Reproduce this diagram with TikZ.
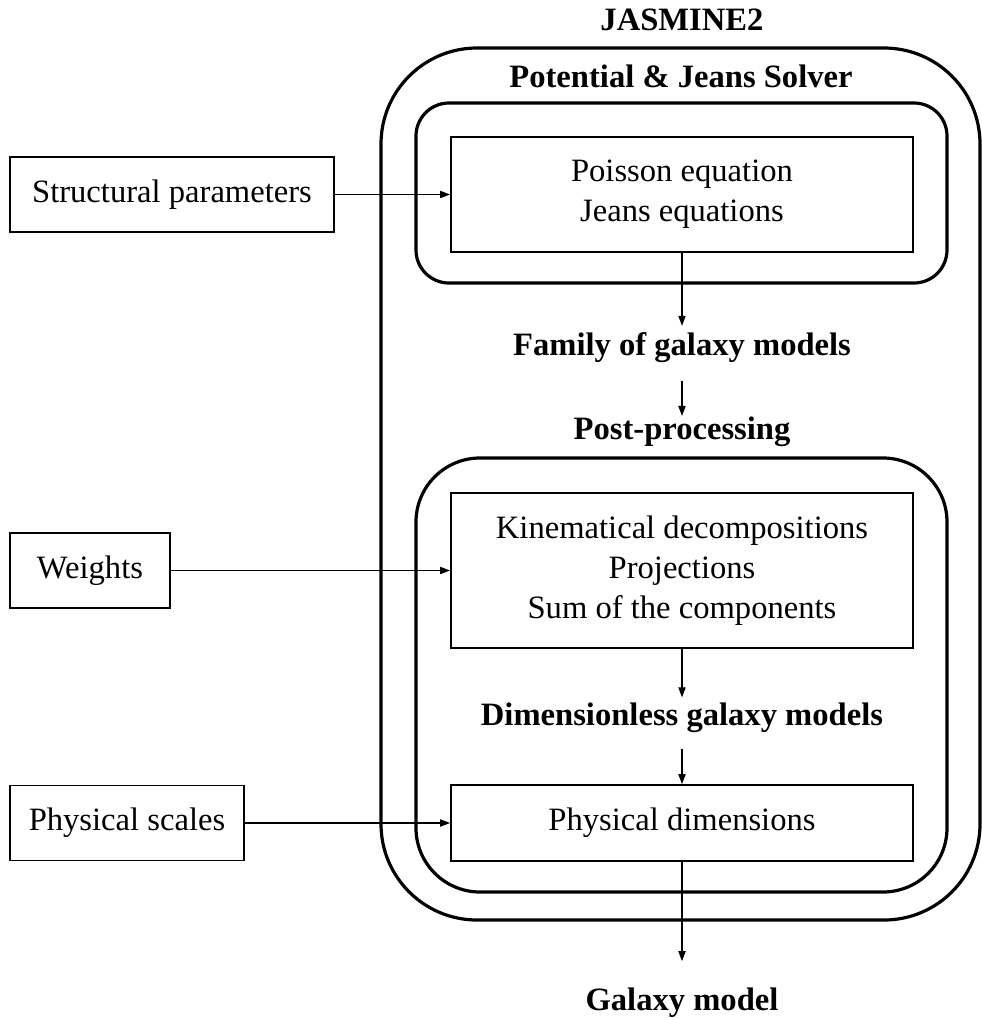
\documentclass[tikz,border=0pt]{standalone}
\usepackage{fontspec}
\setmainfont{Liberation Serif}
\usetikzlibrary{arrows.meta}
\newcommand{\dfont}{\fontsize{16.3}{20}\selectfont}
\tikzset{
  x=0.5pt, y=-0.5pt,
  plainbox/.style={draw, line width=0.9pt, inner sep=0pt, align=center, font=\dfont},
  frame/.style={draw, line width=1.6pt, inner sep=0pt},
  lbl/.style={font=\dfont\bfseries, inner sep=0pt, anchor=base},
  conn/.style={-{Triangle[length=5pt,width=3.6pt]}, line width=0.6pt},
}
\begin{document}
\begin{tikzpicture}
\useasboundingbox (0,0) rectangle (981,1018);
% frames
\node[frame, rounded corners=48pt, minimum width=299.5pt, minimum height=436pt] (jasbox) at (680.5,484) {};
\node[frame, rounded corners=16.5pt, minimum width=265.5pt, minimum height=90pt] (pjbox) at (681.5,193) {};
\node[frame, rounded corners=32pt, minimum width=265.5pt, minimum height=217pt] (ppbox) at (681.5,675) {};
% titles
\node[lbl] (jas) at (682,30) {JASMINE2};
\node[lbl] (pj) at (681,87) {Potential \& Jeans Solver};
\node[lbl] (family) at (682,355) {Family of galaxy models};
\node[lbl] (post) at (682,439) {Post-processing};
\node[lbl] (dimless) at (682,725) {Dimensionless galaxy models};
\node[lbl] (galaxy) at (682,1010) {Galaxy model};
% boxes
\node[plainbox, minimum width=162pt, minimum height=37.5pt] (struct) at (172,194.5) {Structural parameters};
\node[plainbox, minimum width=80pt, minimum height=37.5pt] (weights) at (90,570.5) {Weights};
\node[plainbox, minimum width=117pt, minimum height=37.5pt] (physs) at (127,823) {Physical scales};
\node[plainbox, minimum width=231pt, minimum height=57.5pt] (poisson) at (682,194.5) {Poisson equation\\Jeans equations};
\node[plainbox, minimum width=231pt, minimum height=77.5pt] (kin) at (682,570.5) {Kinematical decompositions\\Projections\\Sum of the components};
\node[plainbox, minimum width=231pt, minimum height=38pt] (phd) at (682,823) {Physical dimensions};
% connectors
\draw[conn] (struct) -- (poisson);
\draw[conn] (weights) -- (kin);
\draw[conn] (physs) -- (phd);
\draw[conn, shorten >=2.9pt] (poisson.south) -- (family.north);
\draw[conn, shorten <=9pt] (family.south) -- (post.north);
\draw[conn, shorten >=2.3pt] (kin.south) -- (dimless.north);
\draw[conn, shorten <=8pt] (dimless.south) -- (phd.north);
\draw[conn, shorten >=12.9pt] (phd.south) -- (galaxy.north);
\end{tikzpicture}
\end{document}
